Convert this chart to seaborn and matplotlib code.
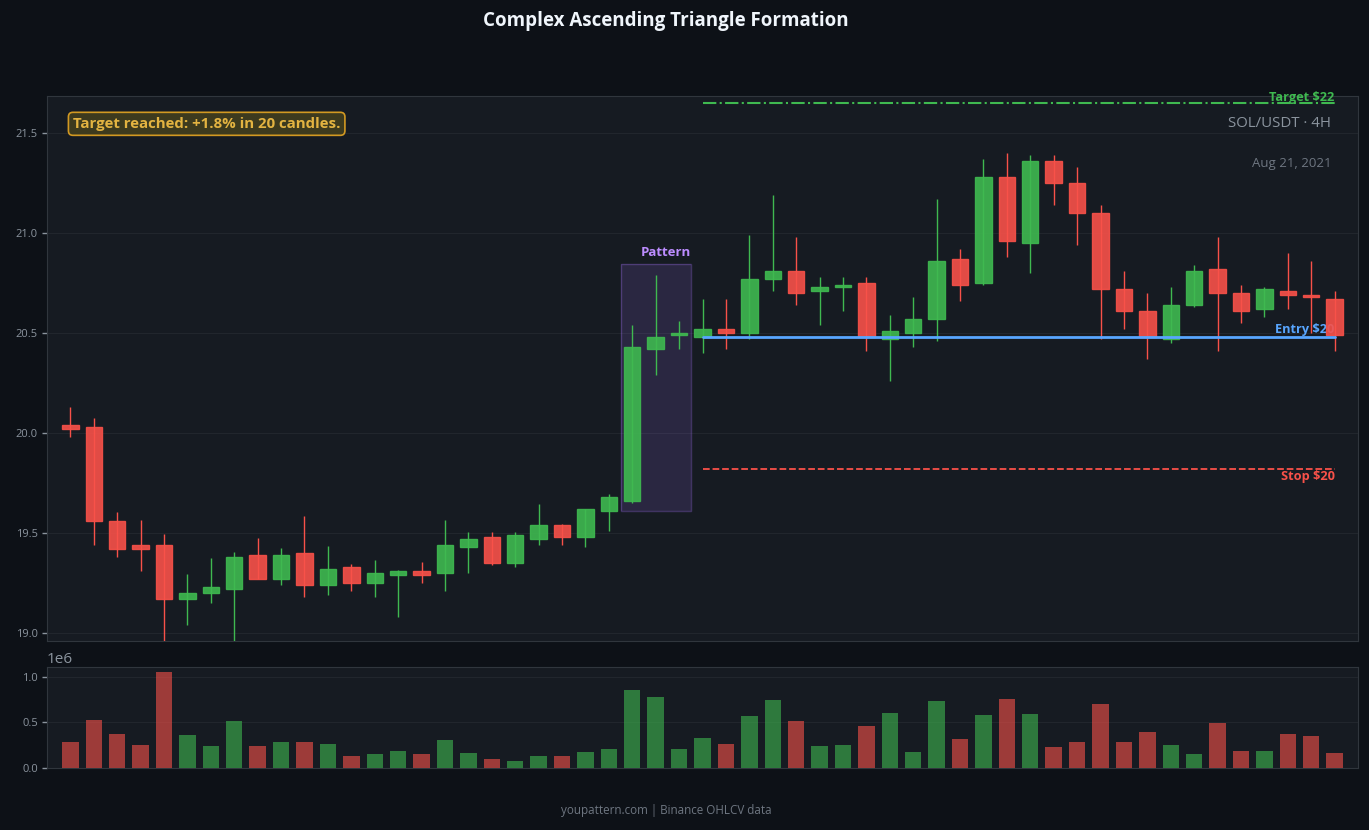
import seaborn as sns
import pandas as pd
import numpy as np
import matplotlib.pyplot as plt
from matplotlib.patches import Rectangle

# OHLCV (55 candles, 4H)
opens = [20.04, 20.03, 19.56, 19.44, 19.44, 19.17, 19.20, 19.22, 19.39, 19.27,
         19.40, 19.24, 19.33, 19.25, 19.29, 19.31, 19.30, 19.43, 19.48, 19.35,
         19.47, 19.54, 19.48, 19.61, 19.66, 20.42, 20.49, 20.48, 20.52, 20.50,
         20.77, 20.81, 20.71, 20.73, 20.75, 20.47, 20.50, 20.57, 20.87, 20.75,
         21.28, 20.95, 21.36, 21.25, 21.10, 20.72, 20.61, 20.47, 20.64, 20.82,
         20.70, 20.62, 20.71, 20.69, 20.67]
highs = [20.13, 20.075, 19.605, 19.565, 19.495, 19.295, 19.375, 19.405, 19.475, 19.425,
         19.585, 19.435, 19.345, 19.365, 19.315, 19.355, 19.565, 19.505, 19.505, 19.505,
         19.645, 19.545, 19.62, 19.695, 20.54, 20.79, 20.56, 20.67, 20.67, 20.99,
         21.19, 20.98, 20.78, 20.78, 20.78, 20.59, 20.68, 21.17, 20.92, 21.37,
         21.40, 21.39, 21.39, 21.33, 21.14, 20.81, 20.70, 20.73, 20.84, 20.98,
         20.74, 20.73, 20.90, 20.86, 20.71]
lows = [19.98, 19.44, 19.38, 19.31, 18.94, 19.04, 19.15, 18.94, 19.27, 19.24,
        19.18, 19.19, 19.21, 19.18, 19.08, 19.25, 19.21, 19.30, 19.34, 19.33,
        19.44, 19.44, 19.43, 19.51, 19.65, 20.29, 20.42, 20.40, 20.42, 20.47,
        20.71, 20.64, 20.54, 20.61, 20.41, 20.26, 20.43, 20.46, 20.66, 20.74,
        20.88, 20.80, 21.14, 20.94, 20.47, 20.52, 20.37, 20.45, 20.63, 20.41,
        20.55, 20.58, 20.62, 20.50, 20.41]
closes = [20.02, 19.56, 19.42, 19.42, 19.17, 19.20, 19.23, 19.38, 19.27, 19.39,
          19.24, 19.32, 19.25, 19.30, 19.31, 19.29, 19.44, 19.47, 19.35, 19.49,
          19.54, 19.48, 19.62, 19.68, 20.43, 20.48, 20.50, 20.52, 20.50, 20.77,
          20.81, 20.70, 20.73, 20.74, 20.48, 20.51, 20.57, 20.86, 20.74, 21.28,
          20.96, 21.36, 21.25, 21.10, 20.72, 20.61, 20.48, 20.64, 20.81, 20.70,
          20.61, 20.72, 20.69, 20.68, 20.49]
volumes = [0.284, 0.528, 0.373, 0.251, 1.059, 0.362, 0.240, 0.517, 0.240, 0.284,
           0.284, 0.262, 0.129, 0.151, 0.185, 0.151, 0.306, 0.162, 0.096, 0.074,
           0.129, 0.129, 0.173, 0.207, 0.860, 0.782, 0.207, 0.328, 0.262, 0.572,
           0.749, 0.517, 0.240, 0.251, 0.461, 0.605, 0.173, 0.738, 0.317, 0.583,
           0.760, 0.594, 0.229, 0.284, 0.705, 0.284, 0.395, 0.251, 0.151, 0.494,
           0.185, 0.185, 0.373, 0.351, 0.162]

target_price = 21.65
entry_price = 20.48
stop_price = 19.82
pattern_start, pattern_end = 24, 26
levels_start = 27

BG = "#0d1117"
PANEL = "#161b22"
GRID = "#21262d"
EDGE = "#30363d"
TXT = "#8b949e"
UP = "#3fb950"
DOWN = "#f85149"

sns.set_theme(style="dark", rc={"axes.facecolor": PANEL, "figure.facecolor": BG,
                                "axes.edgecolor": EDGE, "grid.color": GRID})
plt.rcParams["font.family"] = ["Open Sans", "DejaVu Sans"]

df = pd.DataFrame({"Open": opens, "High": highs, "Low": lows, "Close": closes,
                   "Volume": np.array(volumes) * 1e6})
df["idx"] = np.arange(len(df))
df["dir"] = np.where(df["Close"] >= df["Open"], "up", "down")
colors = df["dir"].map({"up": UP, "down": DOWN})

fig = plt.figure(figsize=(13.69, 8.30), dpi=100)
ax = fig.add_axes([0.0343, 0.2277, 0.9577, 0.6566])
axv = fig.add_axes([0.0343, 0.0747, 0.9577, 0.1217])

# candles
ax.vlines(df["idx"], df["Low"], df["High"], colors=colors, linewidth=1.0, zorder=3)
ax.bar(df["idx"], df["Close"] - df["Open"], bottom=df["Open"], width=0.7,
       color=colors, edgecolor=colors, linewidth=1.0, alpha=0.9, zorder=4)

# pattern box
p_lo = min(lows[pattern_start:pattern_end + 1]) - 0.04
p_hi = max(highs[pattern_start:pattern_end + 1]) + 0.055
ax.add_patch(Rectangle((pattern_start - 0.5, p_lo), pattern_end - pattern_start + 1, p_hi - p_lo,
                       facecolor="#a371f7", alpha=0.15, edgecolor="none", zorder=2))
ax.add_patch(Rectangle((pattern_start - 0.5, p_lo), pattern_end - pattern_start + 1, p_hi - p_lo,
                       facecolor="none", edgecolor="#a371f7", alpha=0.3, linewidth=1, zorder=2))
ax.text(pattern_end + 0.5, p_hi + 0.06, "Pattern", color="#bc8cff", fontsize=9.5,
        fontweight="bold", ha="right", va="center")

# levels
last = len(df) - 1
ax.plot([levels_start, last], [target_price] * 2, color=UP, linestyle="-.", linewidth=1.5, zorder=5)
ax.plot([levels_start, last], [entry_price] * 2, color="#58a6ff", linestyle="-", linewidth=2, zorder=5)
ax.plot([levels_start, last], [stop_price] * 2, color=DOWN, linestyle="--", linewidth=1.3, zorder=5)
ax.text(last, target_price + 0.03, f"Target ${target_price:.0f}", color=UP, fontsize=9.2,
        fontweight="bold", ha="right", va="center")
ax.text(last, entry_price + 0.037, f"Entry ${entry_price:.0f}", color="#58a6ff", fontsize=9.2,
        fontweight="bold", ha="right", va="center")
ax.text(last, stop_price - 0.037, f"Stop ${stop_price:.0f}", color=DOWN, fontsize=9.2,
        fontweight="bold", ha="right", va="center")

ax.text(0.0198, 0.949, "Target reached: +1.8% in 20 candles.", transform=ax.transAxes,
        color="#e3b341", fontsize=10.8, fontweight="bold", ha="left", va="center",
        bbox=dict(boxstyle="round,pad=0.3", facecolor="#3d3a1e", edgecolor="#d29922", linewidth=1.2))
ax.text(0.9794, 0.949, "SOL/USDT · 4H", transform=ax.transAxes, color=TXT,
        fontsize=10.8, ha="right", va="center")
ax.text(0.9794, 0.877, "Aug 21, 2021", transform=ax.transAxes, color="#6e7681",
        fontsize=9.5, ha="right", va="center")

ax.set_xlim(-1, len(df))
ax.set_ylim(18.96, 21.685)
ax.set_yticks([19.0, 19.5, 20.0, 20.5, 21.0, 21.5])
ax.yaxis.set_major_formatter(plt.FormatStrFormatter("%.1f"))
ax.set_xticks([])
ax.grid(axis="y", color=GRID, linewidth=0.8)
ax.tick_params(axis="y", colors=TXT, labelsize=8, left=True, length=3.5, width=1, pad=3)

# volume
sns.barplot(data=df, x="idx", y="Volume", hue="dir", palette={"up": UP, "down": DOWN},
            native_scale=True, width=0.7, alpha=0.6, saturation=1, linewidth=0,
            edgecolor="none", legend=False, ax=axv, zorder=3)
axv.set_xlim(-1, len(df))
axv.set_ylim(0, 1.11e6)
axv.set_yticks([0, 0.5e6, 1.0e6])
axv.set_xticks([])
axv.set_xlabel("")
axv.set_ylabel("")
axv.grid(axis="y", color=GRID, linewidth=0.8)
axv.tick_params(axis="y", colors=TXT, labelsize=8, left=True, length=3.5, width=1, pad=3)
axv.yaxis.get_offset_text().set_fontsize(11)
axv.yaxis.get_offset_text().set_color(TXT)

for a in (ax, axv):
    for s in a.spines.values():
        s.set_color(EDGE)
        s.set_linewidth(0.8)

fig.text(0.4865, 0.975, "Complex Ascending Triangle Formation", color="#f0f6fc",
         fontsize=13.5, fontweight="bold", ha="center", va="center")
fig.text(0.4865, 0.024, "youpattern.com | Binance OHLCV data", color="#6e7681",
         fontsize=8.4, ha="center", va="center")

fig.savefig("out.png", dpi=100, facecolor=BG)
